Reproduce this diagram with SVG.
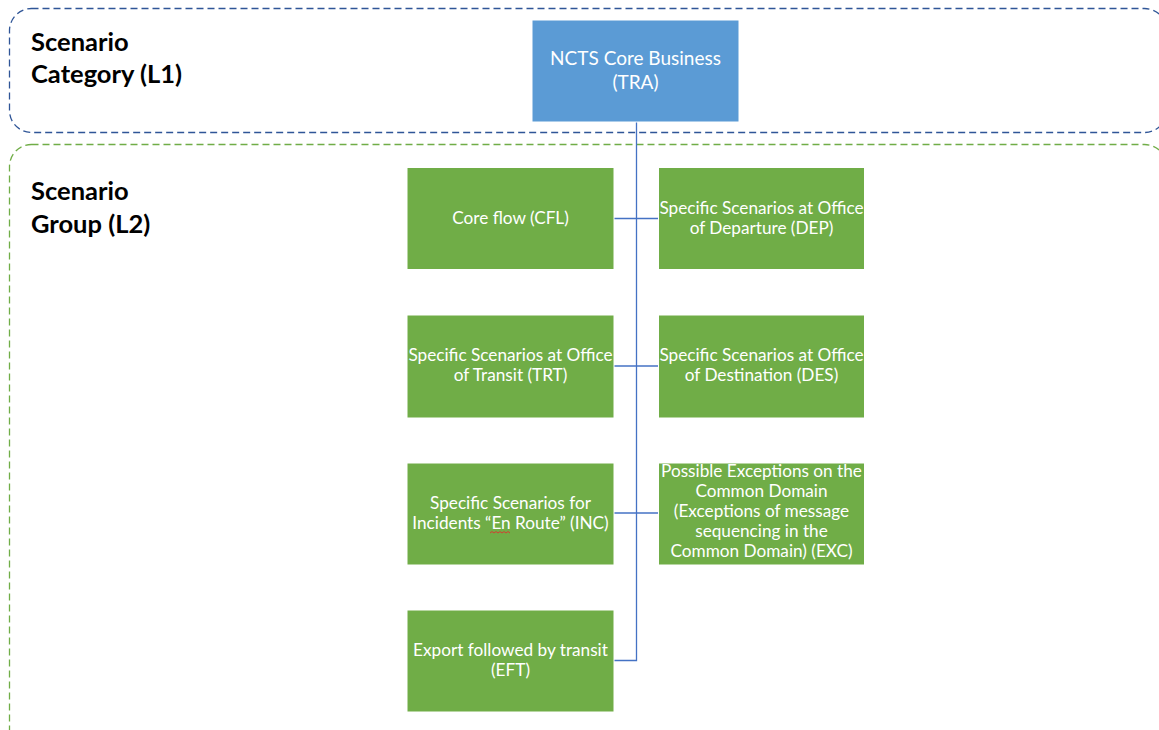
<svg xmlns="http://www.w3.org/2000/svg" width="1159" height="730" viewBox="0 0 1159 730">
<style>
.frame{fill:none;stroke-width:1.3;stroke-dasharray:7 4}
.l1{stroke:#2F5597}
.l2{stroke:#70AD47}
.hdr{font-family:Lato,"Liberation Sans",sans-serif;font-weight:bold;font-size:25.5px;fill:#000}
.blue{fill:#5B9BD5;stroke:#FFFFFF;stroke-width:1}
.green{fill:#70AD47;stroke:#FFFFFF;stroke-width:1}
.t{font-family:Lato,"Liberation Sans",sans-serif;font-size:17.2px;fill:#FFFFFF;text-anchor:middle}
.big{font-size:19px}
.c{fill:none;stroke:#4472C4;stroke-width:1.3}
</style>
<rect width="1159" height="730" fill="#FFFFFF"/>
<g id="frame-l1">
<rect class="frame l1" x="9.5" y="8.5" width="1157" height="124" rx="22"/>
<text class="hdr" x="31" y="51">Scenario</text>
<text class="hdr" x="31" y="83">Category (L1)</text>
</g>
<g id="frame-l2">
<rect class="frame l2" x="9.5" y="144.5" width="1157" height="620" rx="22"/>
<text class="hdr" x="31" y="200">Scenario</text>
<text class="hdr" x="31" y="233">Group (L2)</text>
</g>
<g id="connectors">
<path class="c" d="M636.5 122 V660.5 H614"/>
<path class="c" d="M614 218.5 H658"/>
<path class="c" d="M614 366 H658"/>
<path class="c" d="M614 513 H658"/>
</g>
<g id="TRA">
<rect class="blue" x="532" y="20" width="207" height="102"/>
<text class="t big" x="635.5" y="65">NCTS Core Business</text>
<text class="t big" x="635.5" y="89">(TRA)</text>
</g>
<g id="CFL">
<rect class="green" x="407" y="167.5" width="207" height="102"/>
<text class="t" x="510.5" y="224">Core flow (CFL)</text>
</g>
<g id="DEP">
<rect class="green" x="658.5" y="167.5" width="206" height="102"/>
<text class="t" x="761.5" y="214">Specific Scenarios at Office</text>
<text class="t" x="761.5" y="234">of Departure (DEP)</text>
</g>
<g id="TRT">
<rect class="green" x="407" y="315" width="207" height="103"/>
<text class="t" x="510.5" y="361">Specific Scenarios at Office</text>
<text class="t" x="510.5" y="381">of Transit (TRT)</text>
</g>
<g id="DES">
<rect class="green" x="658.5" y="315" width="206" height="103"/>
<text class="t" x="761.5" y="361">Specific Scenarios at Office</text>
<text class="t" x="761.5" y="381">of Destination (DES)</text>
</g>
<g id="INC">
<rect class="green" x="407" y="463" width="207" height="102"/>
<text class="t" x="510.5" y="509">Specific Scenarios for</text>
<text class="t" x="510.5" y="529">Incidents “En Route” (INC)</text>
<path d="M490 533 l2 -1.5 l2 1.5 l2 -1.5 l2 1.5 l2 -1.5 l2 1.5 l2 -1.5 l2 1.5 l2 -1.5 l2 1.5" fill="none" stroke="#E03030" stroke-width="0.9"/>
</g>
<g id="EXC">
<rect class="green" x="658.5" y="463" width="206" height="102"/>
<text class="t" x="761.5" y="477">Possible Exceptions on the</text>
<text class="t" x="761.5" y="497">Common Domain</text>
<text class="t" x="761.5" y="517">(Exceptions of message</text>
<text class="t" x="761.5" y="537">sequencing in the</text>
<text class="t" x="761.5" y="557">Common Domain) (EXC)</text>
</g>
<g id="EFT">
<rect class="green" x="407" y="610" width="207" height="102"/>
<text class="t" x="510.5" y="656">Export followed by transit</text>
<text class="t" x="510.5" y="676">(EFT)</text>
</g>
</svg>
